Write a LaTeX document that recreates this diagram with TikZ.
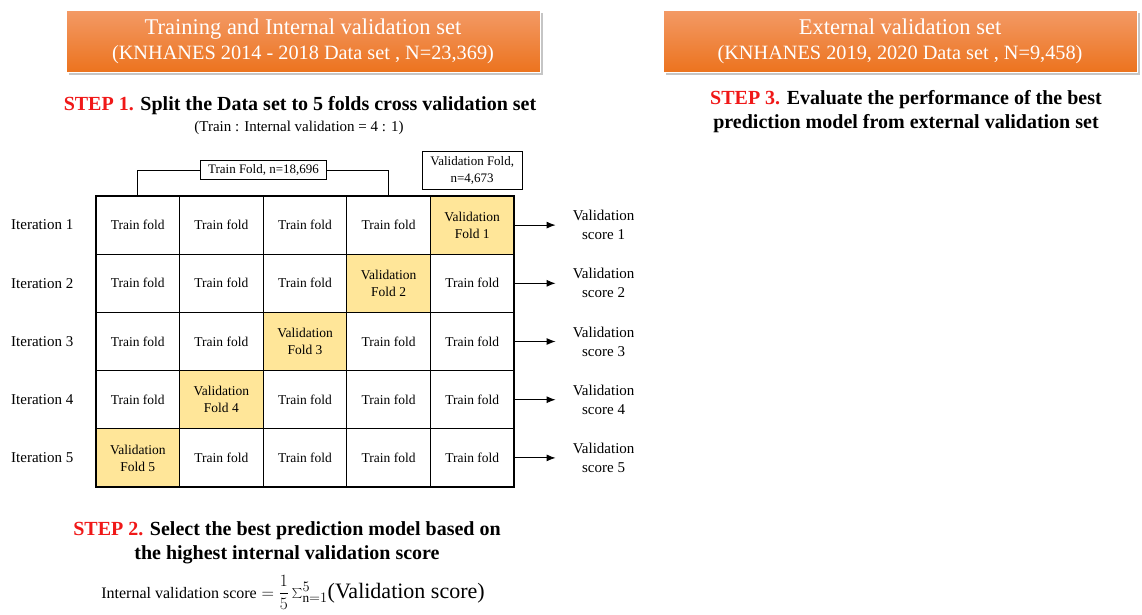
\documentclass[tikz,border=0pt]{standalone}
\usepackage{fontspec}
\setmainfont{Liberation Serif}
\usetikzlibrary{positioning, shadows, arrows.meta}

\definecolor{foldyellow}{HTML}{FFE699}
\definecolor{orangetop}{HTML}{F39A66}
\definecolor{orangebot}{HTML}{EC731E}
\definecolor{stepred}{HTML}{F01818}

\newcommand{\steptag}[1]{\textcolor{stepred}{#1}}
\newcommand{\subline}[1]{{\fontsize{20.3}{24}\selectfont #1}}

\tikzset{
  setbox/.style={minimum width=474pt, minimum height=62pt, inner sep=0pt,
    top color=orangetop, bottom color=orangebot, draw=white, line width=0.8pt,
    drop shadow={shadow xshift=2.5pt, shadow yshift=-2.5pt, fill=black!45},
    text=white, align=center, font=\fontsize{22.5}{25}\selectfont},
  fold/.style={draw, line width=1.1pt, minimum width=83.6pt, minimum height=58.2pt,
    inner sep=0pt, align=center, font=\fontsize{13.5}{17}\selectfont},
  valfold/.style={fold, fill=foldyellow},
  itlabel/.style={font=\fontsize{15}{18}\selectfont, inner sep=3pt},
  score/.style={align=center, font=\fontsize{15}{19}\selectfont, inner sep=3pt},
  infobox/.style={draw, line width=0.9pt, fill=white, align=center, inner sep=4pt,
    font=\fontsize{13}{16.5}\selectfont},
  steptext/.style={align=center, font=\bfseries\fontsize{20}{24.5}\selectfont},
}

\begin{document}
\begin{tikzpicture}[x=1pt, y=-1pt, >={Latex[length=9pt,width=7pt]}]
  \useasboundingbox (0,0) rectangle (1142,614);

  % data set headers
  \node[setbox] (trainset) at (303,41) {Training and Internal validation set\\\subline{(KNHANES 2014 - 2018 Data set , N=23,369)}};
  \node[setbox] (extset) at (900,41) {External validation set\\\subline{(KNHANES 2019, 2020 Data set , N=9,458)}};

  \node[steptext] (step1) at (300,106) {\steptag{STEP 1.} Split the Data set to 5 folds cross validation set};
  \node[font=\fontsize{15}{18}\selectfont] (ratio) at (299,128) {(Train : Internal validation = 4 : 1)};
  \node[steptext] (step3) at (906,111.5) {\steptag{STEP 3.} Evaluate the performance of the best\\prediction model from external validation set};

  % folds grid
  \foreach \r in {1,...,5}{
    \foreach \c in {1,...,5}{
      \pgfmathtruncatemacro{\v}{6-\r}
      \ifnum\c=\v
        \node[valfold] (c\r\c) at ({96+(\c-0.5)*83.6},{196+(\r-0.5)*58.2}) {Validation\\Fold \r};
      \else
        \node[fold] (c\r\c) at ({96+(\c-0.5)*83.6},{196+(\r-0.5)*58.2}) {Train fold};
      \fi
    }
    \node[itlabel, left=19pt of c\r1] (it\r) {Iteration \r};
    \node[score, right=55pt of c\r5] (vs\r) {Validation\\score \r};
    \draw[->, line width=0.9pt, shorten >=14pt] (c\r5.east) -- (vs\r.west);
  }

  % fold brackets
  \node[infobox, inner xsep=8pt] (trainfold) at (263.5,170) {Train Fold, n=18,696};
  \draw[line width=0.9pt] (trainfold.west) -| (c11.north);
  \draw[line width=0.9pt] (trainfold.east) -| (c14.north);
  \node[infobox, above=6pt of c15, inner xsep=8pt, inner ysep=5pt] (valbox) {Validation Fold,\\n=4,673};

  \node[steptext] (step2) at (287,543) {\steptag{STEP 2.} Select the best prediction model based on\\the highest internal validation score};
  \node[font=\fontsize{19}{22}\selectfont, anchor=base, inner sep=0pt] (formula) at (293,598) {{\fontsize{16}{19}\selectfont Internal validation score} $={\displaystyle\frac{1}{5}}\sum_{\mathrm{n}=1}^{5}$\fontsize{22}{24}\selectfont(Validation score)};
\end{tikzpicture}
\end{document}
